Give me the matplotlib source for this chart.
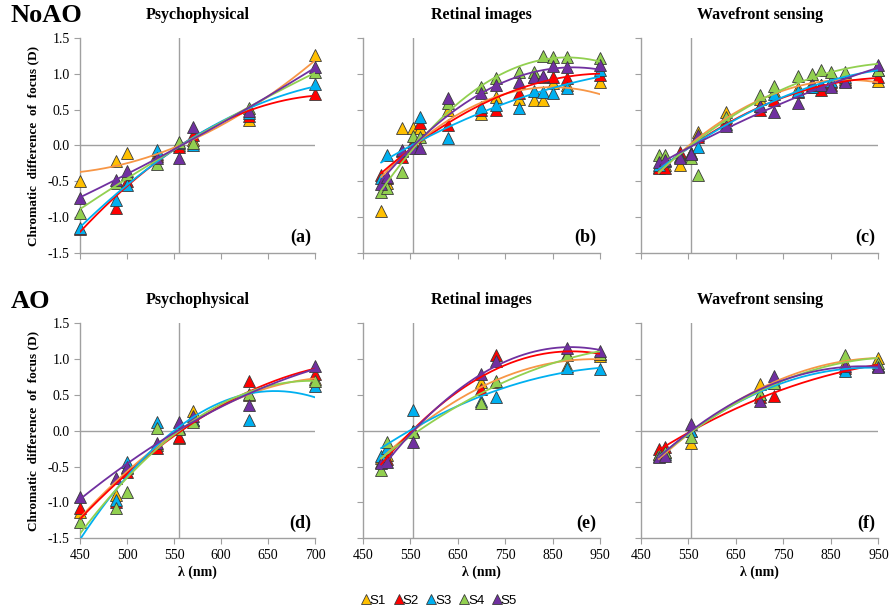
import numpy as np
import matplotlib
matplotlib.use("Agg")
import matplotlib.pyplot as plt
from matplotlib.lines import Line2D

SUBJECTS = ["S1", "S2", "S3", "S4", "S5"]
MARKER_COLORS = ["#FFC000", "#FF0000", "#00B0F0", "#92D050", "#7030A0"]
FIT_COLORS = ["#F79646", "#FF0000", "#00B0F0", "#92D050", "#7030A0"]

# wavelengths (nm)
PSY_WL = [450, 488, 500, 532, 555, 570, 630, 700]
RET_NOAO_WL = [488, 500, 532, 555, 570, 630, 700, 730, 780, 810, 830, 850, 880, 950]
WFS_NOAO_WL = [488, 500, 532, 555, 570, 630, 700, 730, 780, 810, 830, 850, 880, 950]
AO_WL = [488, 500, 555, 700, 730, 880, 950]

# chromatic difference of focus (D), one row per subject S1..S5
NOAO_PSY = [
    [-0.50, -0.22, -0.10, -0.12, 0.00, 0.07, 0.36, 1.26],
    [-1.17, -0.88, -0.50, -0.15, -0.02, 0.15, 0.41, 0.72],
    [-1.15, -0.76, -0.55, -0.06, 0.03, 0.01, 0.45, 0.86],
    [-0.94, -0.52, -0.40, -0.26, 0.05, 0.03, 0.52, 1.03],
    [-0.74, -0.48, -0.36, -0.18, -0.18, 0.26, 0.48, 1.10],
]
NOAO_RET = [
    [-0.92, -0.52, 0.25, 0.25, 0.25, 0.49, 0.44, 0.68, 0.65, 0.64, 0.63, 0.87, 0.85, 0.88],
    [-0.42, -0.45, -0.16, 0.05, 0.31, 0.29, 0.50, 0.49, 0.73, 0.96, 0.96, 0.96, 0.94, 0.99],
    [-0.45, -0.13, -0.08, 0.00, 0.40, 0.11, 0.54, 0.56, 0.53, 0.76, 0.75, 0.74, 0.80, 1.06],
    [-0.65, -0.60, -0.37, 0.13, 0.12, 0.59, 0.82, 0.94, 1.03, 1.02, 1.25, 1.24, 1.24, 1.22],
    [-0.54, -0.44, -0.06, -0.04, -0.04, 0.67, 0.73, 0.85, 0.89, 0.95, 0.97, 1.11, 1.10, 1.12],
]
NOAO_WFS = [
    [-0.30, -0.28, -0.27, -0.10, 0.19, 0.47, 0.65, 0.76, 0.80, 0.87, 0.85, 0.88, 0.93, 0.90],
    [-0.32, -0.32, -0.09, -0.10, 0.12, 0.35, 0.50, 0.63, 0.75, 0.82, 0.78, 0.85, 0.90, 0.96],
    [-0.27, -0.22, -0.15, -0.12, -0.02, 0.30, 0.55, 0.72, 0.76, 0.82, 0.85, 0.90, 0.95, 1.05],
    [-0.13, -0.13, -0.16, -0.18, -0.41, 0.40, 0.70, 0.83, 0.97, 1.00, 1.05, 1.02, 1.02, 1.05],
    [-0.23, -0.20, -0.18, -0.12, 0.15, 0.27, 0.55, 0.47, 0.59, 0.84, 0.84, 0.82, 0.89, 1.12],
]
AO_PSY = [
    [-1.13, -0.90, -0.52, -0.20, -0.10, 0.27, 0.50, 0.72],
    [-1.08, -0.99, -0.57, -0.24, -0.08, 0.15, 0.69, 0.80],
    [-1.65, -0.97, -0.44, 0.13, 0.04, 0.15, 0.15, 0.63],
    [-1.27, -1.08, -0.85, 0.04, 0.02, 0.13, 0.52, 0.69],
    [-0.92, -0.66, -0.50, -0.17, 0.13, 0.20, 0.36, 0.91],
]
AO_RET = [
    [-0.38, -0.34, 0.00, 0.68, 0.68, 0.90, 1.05],
    [-0.43, -0.40, 0.00, 0.58, 1.06, 1.08, 1.08],
    [-0.35, -0.24, 0.29, 0.42, 0.47, 0.88, 0.87],
    [-0.55, -0.15, -0.02, 0.39, 0.70, 1.06, 1.08],
    [-0.45, -0.43, -0.15, 0.80, 0.97, 1.16, 1.12],
]
AO_WFS = [
    [-0.33, -0.30, -0.17, 0.65, 0.70, 0.95, 1.02],
    [-0.26, -0.23, 0.00, 0.47, 0.49, 0.88, 0.90],
    [-0.35, -0.32, 0.00, 0.51, 0.67, 0.83, 0.90],
    [-0.32, -0.30, -0.08, 0.51, 0.67, 1.06, 0.95],
    [-0.37, -0.35, 0.09, 0.42, 0.77, 0.90, 0.89],
]

TITLES = ["Psychophysical", "Retinal images", "Wavefront sensing"]
PANEL_LABELS = ["(a)", "(b)", "(c)", "(d)", "(e)", "(f)"]
REF_WL = 555
SERIF = "Liberation Serif"
GRAY = "#A0A0A0"


def draw_panel(ax, wl, data, xmax, xstep):
    """
    Scatter the subjects and overlay 2nd order polynomial trendlines
    :param ax: The axes
    :param wl: Wavelengths
    :param data: One list of values per subject
    :param xmax: Upper x limit
    :param xstep: Tick spacing
    """
    wl = np.asarray(wl, dtype=float)
    ax.axhline(0, color=GRAY, lw=1.0, zorder=1)
    ax.axvline(REF_WL, color=GRAY, lw=1.0, zorder=1)

    for vals, mc in zip(data, MARKER_COLORS):
        vals = np.asarray(vals, dtype=float)
        # points below the axis range are not drawn, only used for the fit
        shown = np.where(vals < -1.5, np.nan, vals)
        ax.plot(wl, shown, linestyle="none", marker="^", ms=8.5, mfc=mc,
                mec="#3a3a3a", mew=0.6, zorder=3, clip_on=False)
    for vals, fc in zip(data, FIT_COLORS):
        coef = np.polyfit(wl, vals, 2)
        xs = np.linspace(wl.min(), wl.max(), 200)
        ax.plot(xs, np.polyval(coef, xs), color=fc, lw=1.3, zorder=4)

    ax.set_xlim(450, xmax)
    ax.set_ylim(-1.5, 1.5)
    ax.set_xticks(np.arange(450, xmax + 1, xstep))
    ax.set_yticks(np.arange(-1.5, 1.51, 0.5))
    ax.set_yticklabels([f"{v:.1f}" for v in np.arange(-1.5, 1.51, 0.5)])
    for side in ["top", "right"]:
        ax.spines[side].set_visible(False)
    for side in ["left", "bottom"]:
        ax.spines[side].set_color(GRAY)
        ax.spines[side].set_linewidth(1.0)
    ax.tick_params(direction="out", length=4, color=GRAY, labelsize=10)
    for lab in ax.get_xticklabels() + ax.get_yticklabels():
        lab.set_fontfamily(SERIF)


def main():
    fig = plt.figure(figsize=(8.9, 6.15), dpi=100)

    lefts = [0.0899, 0.408, 0.720]
    widths = [0.264, 0.266, 0.267]
    bottoms = [0.589, 0.125]
    height = 0.349

    rows = [
        [(PSY_WL, NOAO_PSY, 700, 50), (RET_NOAO_WL, NOAO_RET, 950, 100), (WFS_NOAO_WL, NOAO_WFS, 950, 100)],
        [(PSY_WL, AO_PSY, 700, 50), (AO_WL, AO_RET, 950, 100), (AO_WL, AO_WFS, 950, 100)],
    ]

    k = 0
    for r, row in enumerate(rows):
        for c, (wl, data, xmax, xstep) in enumerate(row):
            ax = fig.add_axes([lefts[c], bottoms[r], widths[c], height])
            draw_panel(ax, wl, data, xmax, xstep)
            ax.set_title(TITLES[c], fontfamily=SERIF, fontweight="bold",
                         fontsize=11.5, pad=14)
            if r == 0:
                ax.tick_params(labelbottom=False)
            else:
                ax.set_xlabel("λ (nm)", fontfamily=SERIF, fontweight="bold",
                              fontsize=10, labelpad=3)
            if c > 0:
                ax.tick_params(labelleft=False)
            else:
                ax.set_ylabel("Chromatic  difference  of  focus (D)", fontfamily=SERIF,
                              fontweight="bold", fontsize=9.5, labelpad=6)
            ax.text(0.985, 0.03, PANEL_LABELS[k], transform=ax.transAxes,
                    ha="right", va="bottom", fontfamily=SERIF,
                    fontweight="bold", fontsize=13)
            k += 1

    fig.text(0.012, 0.975, "NoAO", fontfamily=SERIF, fontweight="bold",
             fontsize=19, va="center", ha="left")
    fig.text(0.012, 0.51, "AO", fontfamily=SERIF, fontweight="bold",
             fontsize=19, va="center", ha="left")

    handles = [Line2D([], [], linestyle="none", marker="^", ms=7.5, mfc=mc,
                      mec="#3a3a3a", mew=0.6) for mc in MARKER_COLORS]
    fig.legend(handles, SUBJECTS, loc="center", bbox_to_anchor=(0.494, 0.023),
               ncol=5, frameon=False, handlelength=0.5, handletextpad=0.05,
               columnspacing=0.7, prop={"family": "Liberation Sans", "size": 9.5})

    fig.savefig("out.png", dpi=100)
    plt.close(fig)


if __name__ == "__main__":
    main()
